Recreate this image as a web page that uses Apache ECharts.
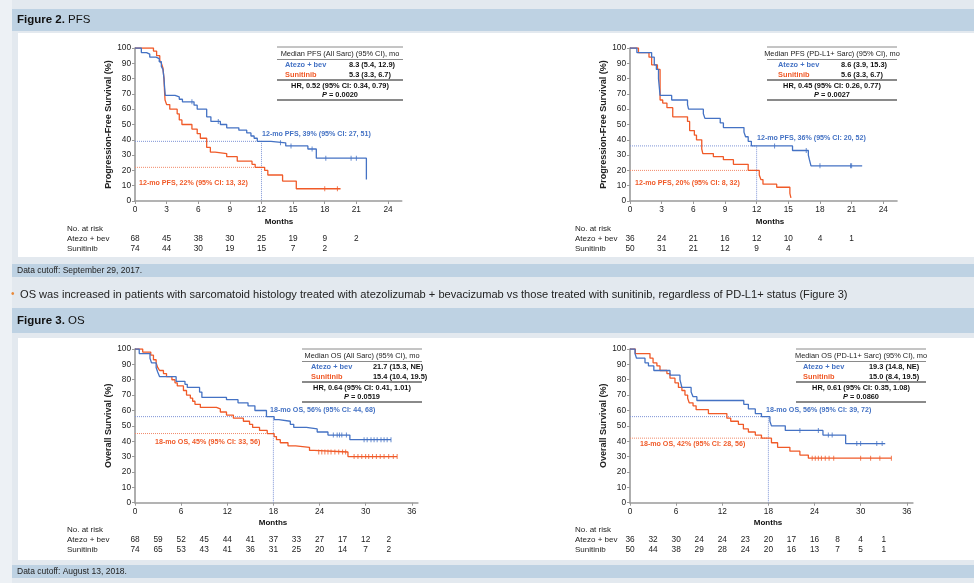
<!DOCTYPE html>
<html><head><meta charset="utf-8">
<script src="https://cdn.jsdelivr.net/npm/echarts@6/dist/echarts.min.js"></script>
<style>html,body{margin:0;padding:0;background:#edf1f5}#c{width:974px;height:583px}</style>
</head><body><div id="c"></div><script>
// ---------- DATA ----------
const pfsRiskTimes = [0, 3, 6, 9, 12, 15, 18, 21];
const osRiskTimes = [0, 3, 6, 9, 12, 15, 18, 21, 24, 27, 30, 33];
const pfsTickValues = [0, 3, 6, 9, 12, 15, 18, 21, 24];
const osTickValues = [0, 6, 12, 18, 24, 30, 36];
const yTickValues = [0, 10, 20, 30, 40, 50, 60, 70, 80, 90, 100];

// PFS, all sarcomatoid
const pfsAllAtezo = [[0,100],[0.6,97],[1.1,96],[1.4,94],[2.0,93],[2.3,91],[2.5,88],[2.65,86],[2.75,80],[2.8,75],[2.87,69],[3.8,68],[4.2,66.5],[4.5,64.8],[5.6,62.6],[5.9,60],[6.8,55],[7.2,52],[8.1,50],[8.7,47.8],[9.85,46.3],[10.6,44.5],[11.0,42.5],[11.3,41],[11.6,39],[12.9,38],[14.3,36],[16.4,34],[17.2,28],[21.95,14]];
const pfsAllAtezoCens = [[5.4,64.8],[7.9,52],[13.8,38],[14.8,36],[16.8,34],[18.1,28],[20.5,28],[21.0,28]];
const pfsAllSuni = [[0,100],[1.75,98],[2.05,95],[2.35,92],[2.5,90],[2.65,87],[2.75,80],[2.8,72],[2.85,66],[3.0,63],[3.3,60],[4.0,57],[4.2,53],[4.45,50],[5.4,47],[5.9,44],[6.2,41],[6.8,35],[7.15,32],[7.6,31],[8.7,29],[9.7,26],[11.1,24],[11.4,22],[12.3,20],[12.6,17],[14.0,13],[15.3,8],[19.5,8]];
const pfsAllSuniCens = [[18.0,8],[19.2,8]];
const pfsAllRiskAtezo = [68, 45, 38, 30, 25, 19, 9, 2];
const pfsAllRiskSuni = [74, 44, 30, 19, 15, 7, 2];

// PFS, PD-L1+ sarcomatoid
const pfsPdAtezo = [[0,100],[0.65,97],[2.05,94],[2.3,89],[2.5,86],[2.7,80],[2.85,69],[3.95,66],[5.45,63],[5.55,60],[6.95,57],[7.1,54],[8.55,51],[8.85,48],[10.8,45],[10.95,42],[11.2,39],[11.5,36],[15.4,33],[16.9,30],[17.0,27],[17.15,23],[22.0,23]];
const pfsPdAtezoCens = [[13.7,36],[16.7,33],[18.0,23],[20.9,23],[21.0,23]];
const pfsPdSuni = [[0,100],[0.8,97],[1.8,94],[2.05,89],[2.6,86],[2.85,66],[3.1,64],[3.5,61],[4.05,55],[5.45,52],[5.65,46],[6.1,43],[6.3,40],[6.8,34],[6.9,31],[7.9,29],[8.85,27],[9.8,24],[11.2,20],[12.25,17],[12.4,14],[12.6,11],[13.9,9],[15.15,5],[15.25,2]];
const pfsPdSuniCens = [];
const pfsPdRiskAtezo = [36, 24, 21, 16, 12, 10, 4, 1];
const pfsPdRiskSuni = [50, 31, 21, 12, 9, 4];

// OS, all sarcomatoid
const osAllAtezo = [[0,100],[0.55,97],[1.95,94],[2.15,91],[2.75,88],[2.95,85],[3.2,82],[5.35,79],[6.5,77],[6.8,75],[8.4,72],[8.7,68.5],[11.9,67],[13.4,65],[14.7,63],[15.6,60],[17.1,56],[18.1,54],[18.7,53],[20.2,51],[20.65,49],[22.3,48],[23.7,46],[25.1,44],[27.95,41],[33.3,41]];
const osAllAtezoCens = [[25.8,44],[26.3,44],[26.6,44],[26.9,44],[27.5,44],[29.8,41],[30.2,41],[30.7,41],[31.1,41],[31.5,41],[32.0,41],[32.4,41],[32.8,41],[33.3,41]];
const osAllSuni = [[0,100],[1.0,98],[2.05,96],[2.4,93],[2.75,91],[2.95,88],[3.2,86],[3.7,84],[4.1,82],[4.8,80],[5.2,78],[5.5,76],[6.3,73],[6.7,70],[7.2,68],[7.5,66],[7.8,64],[8.5,62],[10.6,61],[11.1,59],[11.9,57],[12.8,55],[14.1,53],[14.9,51],[15.3,49],[16.2,47],[17.2,45],[18.1,43],[18.4,41],[18.9,39],[19.9,37],[20.9,36],[22.7,34],[23.3,33],[27.7,30],[34.1,30]];
const osAllSuniCens = [[23.9,33],[24.3,33],[24.7,33],[25.1,33],[25.5,33],[26.0,33],[26.5,33],[27.0,33],[27.4,33],[28.5,30],[29.0,30],[29.5,30],[30.0,30],[30.4,30],[30.9,30],[31.4,30],[31.9,30],[32.4,30],[33.0,30],[33.6,30],[34.1,30]];
const osAllRiskAtezo = [68, 59, 52, 45, 44, 41, 37, 33, 27, 17, 12, 2];
const osAllRiskSuni = [74, 65, 53, 43, 41, 36, 31, 25, 20, 14, 7, 2];

// OS, PD-L1+ sarcomatoid
const osPdAtezo = [[0,100],[0.65,97],[0.85,94],[1.95,91],[2.4,89],[3.1,86],[5.2,83],[6.5,80],[6.75,75],[7.95,72],[8.2,69],[8.7,66.5],[14.8,64],[15.4,61],[16.3,58],[17.1,56],[18.2,53],[18.4,50],[20.2,47],[25.1,44],[28.05,38.5],[33.2,38.5]];
const osPdAtezoCens = [[22.1,47],[24.5,47],[25.8,44],[26.3,44],[29.5,38.5],[30.0,38.5],[32.1,38.5],[32.8,38.5]];
const osPdSuni = [[0,100],[0.7,97],[2.6,94],[3.0,91],[3.5,89],[3.9,86],[4.8,84],[5.2,81],[5.85,78],[6.3,75],[6.75,73],[7.15,70],[7.5,68],[7.7,65],[8.2,63],[8.6,60.5],[10.2,58],[12.6,55],[13.1,53],[14.1,51],[14.75,48],[15.4,46],[16.3,44],[17.1,42],[18.4,39],[19.2,36],[20.8,33.5],[22.1,31],[23.2,29],[34.0,29]];
const osPdSuniCens = [[23.7,29],[24.1,29],[24.5,29],[24.9,29],[25.4,29],[25.9,29],[26.5,29],[30.0,29],[31.3,29],[32.5,29],[34.0,29]];
const osPdRiskAtezo = [36, 32, 30, 24, 24, 23, 20, 17, 16, 8, 4, 1];
const osPdRiskSuni = [50, 44, 38, 29, 28, 24, 20, 16, 13, 7, 5, 1];

// landmark: [month, atezo %, sunitinib %]
const landmarks = [[12, 39, 22], [12, 36, 20], [18, 56, 45], [18, 56, 42]];
const landmarkAtezoText = ['12-mo PFS, 39% (95% CI: 27, 51)', '12-mo PFS, 36% (95% CI: 20, 52)', '18-mo OS, 56% (95% CI: 44, 68)', '18-mo OS, 56% (95% CI: 39, 72)'];
const landmarkSuniText = ['12-mo PFS, 22% (95% CI: 13, 32)', '12-mo PFS, 20% (95% CI: 8, 32)', '18-mo OS, 45% (95% CI: 33, 56)', '18-mo OS, 42% (95% CI: 28, 56)'];

// median tables
const tableTitles = ['Median PFS (All Sarc) (95% CI), mo', 'Median PFS (PD-L1+ Sarc) (95% CI), mo', 'Median OS (All Sarc) (95% CI), mo', 'Median OS (PD-L1+ Sarc) (95% CI), mo'];
const atezoMedians = ['8.3 (5.4, 12.9)', '8.6 (3.9, 15.3)', '21.7 (15.3, NE)', '19.3 (14.8, NE)'];
const suniMedians = ['5.3 (3.3, 6.7)', '5.6 (3.3, 6.7)', '15.4 (10.4, 19.5)', '15.0 (8.4, 19.5)'];
const hrTexts = ['HR, 0.52 (95% CI: 0.34, 0.79)', 'HR, 0.45 (95% CI: 0.26, 0.77)', 'HR, 0.64 (95% CI: 0.41, 1.01)', 'HR, 0.61 (95% CI: 0.35, 1.08)'];
const pValues = ['0.0020', '0.0027', '0.0519', '0.0860'];
const armNames = ['Atezo + bev', 'Sunitinib'];
const yTitles = ['Progression-Free Survival (%)', 'Progression-Free Survival (%)', 'Overall Survival (%)', 'Overall Survival (%)'];

// ---------- LAYOUT / STYLE ----------
const BLUE = '#4472c4', ORANGE = '#f05a28';
const FONT = "'Liberation Sans', Arial, Helvetica, sans-serif";
const AX = '#9a9a9a';
const TF = 7.4; // table font
const panels = [
  {left:135, top:48, width:266.7, height:153, max:25.3, ticks:pfsTickValues, atezo:pfsAllAtezo, atezoC:pfsAllAtezoCens, suni:pfsAllSuni, suniC:pfsAllSuniCens, rt:pfsRiskTimes, ra:pfsAllRiskAtezo, rs:pfsAllRiskSuni, lblX:67, riskY:229, monthsX:279, monthsY:222, tab:{l:277, r:403, t:47, a:8, v:72}, annA:[262,134], annS:[139,183]},
  {left:630, top:48, width:267, height:153, max:25.3, ticks:pfsTickValues, atezo:pfsPdAtezo, atezoC:pfsPdAtezoCens, suni:pfsPdSuni, suniC:pfsPdSuniCens, rt:pfsRiskTimes, ra:pfsPdRiskAtezo, rs:pfsPdRiskSuni, lblX:575, riskY:229, monthsX:770, monthsY:222, tab:{l:767, r:897, t:47, a:11, v:74}, annA:[757,138], annS:[635,183]},
  {left:135, top:349, width:282.9, height:153.7, max:36.8, ticks:osTickValues, atezo:osAllAtezo, atezoC:osAllAtezoCens, suni:osAllSuni, suniC:osAllSuniCens, rt:osRiskTimes, ra:osAllRiskAtezo, rs:osAllRiskSuni, lblX:67, riskY:530, monthsX:273, monthsY:523, tab:{l:302, r:422, t:349, a:9, v:71}, annA:[270,410], annS:[155,442]},
  {left:630, top:349, width:282.9, height:153.7, max:36.8, ticks:osTickValues, atezo:osPdAtezo, atezoC:osPdAtezoCens, suni:osPdSuni, suniC:osPdSuniCens, rt:osRiskTimes, ra:osPdRiskAtezo, rs:osPdRiskSuni, lblX:575, riskY:530, monthsX:768, monthsY:523, tab:{l:796, r:926, t:349, a:7, v:73}, annA:[766,410], annS:[640,444]}
];

function txt(x, y, text, size, color, opts) {
  opts = opts || {};
  return {type:'text', silent:true, z:50, style:Object.assign({
    x:x, y:y, text:text, fill:color || '#222',
    font:(opts.bold ? 'bold ' : '') + size + 'px ' + FONT,
    align:opts.align || 'left', verticalAlign:'middle',
    textAlign:opts.align || 'left', textVerticalAlign:'middle'
  }, opts.rich ? {rich:opts.rich} : {})};
}
function hline(x1, x2, y, w, color) {
  return {type:'line', silent:true, z:50, shape:{x1:x1, y1:y, x2:x2, y2:y}, style:{stroke:color || '#8a8a8a', lineWidth:w}};
}
function rect(x, y, w, h, color) {
  return {type:'rect', silent:true, z:-10, shape:{x:x, y:y, width:w, height:h}, style:{fill:color}};
}

const grids = [], xAxes = [], yAxes = [], series = [];
panels.forEach((p, i) => {
  grids.push({left:p.left, top:p.top, width:p.width, height:p.height, containLabel:false});
  xAxes.push({type:'value', gridIndex:i, min:0, max:p.max, interval:p.ticks[1],
    axisLine:{show:true, onZero:false, lineStyle:{color:AX, width:1.6}},
    axisTick:{show:true, length:3, customValues:p.ticks, lineStyle:{color:AX, width:1}},
    axisLabel:{customValues:p.ticks, fontSize:8.3, color:'#222', fontFamily:FONT, margin:5},
    splitLine:{show:false}});
  yAxes.push({type:'value', gridIndex:i, min:0, max:100, interval:10,
    name:yTitles[i], nameLocation:'middle', nameGap:20,
    nameTextStyle:{fontSize:9, fontWeight:'bold', color:'#222', fontFamily:FONT},
    axisLine:{show:true, lineStyle:{color:AX, width:1.6}},
    axisTick:{show:true, length:3, customValues:yTickValues, lineStyle:{color:AX, width:1}},
    axisLabel:{fontSize:8.3, color:'#222', fontFamily:FONT, margin:4},
    splitLine:{show:false}});
  const lm = landmarks[i];
  series.push({type:'line', xAxisIndex:i, yAxisIndex:i, data:[[0, lm[1]], [lm[0], lm[1]], [lm[0], 0]], showSymbol:false, silent:true, z:1,
    lineStyle:{color:'#7d93d6', width:1, type:'dotted'}});
  series.push({type:'line', xAxisIndex:i, yAxisIndex:i, data:[[0, lm[2]], [lm[0], lm[2]]], showSymbol:false, silent:true, z:1,
    lineStyle:{color:'#f28a6a', width:1, type:'dotted'}});
  series.push({type:'line', step:'end', xAxisIndex:i, yAxisIndex:i, data:p.suni, showSymbol:false, silent:true, z:3,
    lineStyle:{color:ORANGE, width:1.3}});
  series.push({type:'line', step:'end', xAxisIndex:i, yAxisIndex:i, data:p.atezo, showSymbol:false, silent:true, z:4,
    lineStyle:{color:BLUE, width:1.3}});
  series.push({type:'scatter', xAxisIndex:i, yAxisIndex:i, data:p.suniC, symbol:'rect', symbolSize:[1,5], silent:true, z:3,
    itemStyle:{color:ORANGE}});
  series.push({type:'scatter', xAxisIndex:i, yAxisIndex:i, data:p.atezoC, symbol:'rect', symbolSize:[1,5], silent:true, z:4,
    itemStyle:{color:BLUE}});
});

// page background & banners
const richB = {b:{fontWeight:'bold', fontSize:11.5, fontFamily:FONT, fill:'#111'}};
const graphics = [
  rect(12, 0, 962, 583, '#e3e9ef'),
  rect(12, 9, 962, 22, '#bed2e3'),
  rect(18, 33, 956, 224, '#ffffff'),
  rect(12, 264, 962, 13, '#bed2e3'),
  rect(12, 308, 962, 25, '#bed2e3'),
  rect(18, 338, 956, 222, '#ffffff'),
  rect(12, 565, 962, 13, '#bed2e3'),
  txt(17, 20, '{b|Figure 2.} PFS', 11.5, '#111', {rich:richB}),
  txt(17, 270.5, 'Data cutoff: September 29, 2017.', 8.5, '#222'),
  txt(11, 294.5, '•', 10, '#e8893a'),
  txt(20, 294.5, 'OS was increased in patients with sarcomatoid histology treated with atezolizumab + bevacizumab vs those treated with sunitinib, regardless of PD-L1+ status (Figure 3)', 11.1, '#222'),
  txt(17, 321, '{b|Figure 3.} OS', 11.5, '#111', {rich:richB}),
  txt(17, 571.5, 'Data cutoff: August 13, 2018.', 8.5, '#222')
];

panels.forEach((p, i) => {
  const t = p.tab, cx = (t.l + t.r) / 2;
  graphics.push(hline(t.l, t.r, t.t, 1, '#8a8a8a'));
  graphics.push(txt(cx, t.t + 7, tableTitles[i], TF, '#222', {align:'center'}));
  graphics.push(hline(t.l, t.r, t.t + 12.5, 1, '#8a8a8a'));
  graphics.push(txt(t.l + t.a, t.t + 18, armNames[0], TF, BLUE, {bold:true}));
  graphics.push(txt(t.l + t.v, t.t + 18, atezoMedians[i], TF, '#111', {bold:true}));
  graphics.push(txt(t.l + t.a, t.t + 28, armNames[1], TF, ORANGE, {bold:true}));
  graphics.push(txt(t.l + t.v, t.t + 28, suniMedians[i], TF, '#111', {bold:true}));
  graphics.push(hline(t.l, t.r, t.t + 33, 2, '#8a8a8a'));
  graphics.push(txt(cx, t.t + 39, hrTexts[i], TF, '#111', {bold:true, align:'center'}));
  graphics.push(txt(cx, t.t + 48, '{i|P} = ' + pValues[i], TF, '#111', {bold:true, align:'center',
    rich:{i:{fontStyle:'italic', fontWeight:'bold', fontSize:TF, fontFamily:FONT, fill:'#111'}}}));
  graphics.push(hline(t.l, t.r, t.t + 53, 2, '#8a8a8a'));
  graphics.push(txt(p.annA[0], p.annA[1], landmarkAtezoText[i], 7.1, BLUE, {bold:true}));
  graphics.push(txt(p.annS[0], p.annS[1], landmarkSuniText[i], 7.1, ORANGE, {bold:true}));
  graphics.push(txt(p.monthsX, p.monthsY, 'Months', 8, '#111', {bold:true, align:'center'}));
  graphics.push(txt(p.lblX, p.riskY, 'No. at risk', 8, '#222'));
  graphics.push(txt(p.lblX, p.riskY + 9.8, armNames[0], 8, '#222'));
  graphics.push(txt(p.lblX, p.riskY + 19.3, armNames[1], 8, '#222'));
});

const chart = echarts.init(document.getElementById('c'), null, {width:974, height:583});
const option = {animation:false, backgroundColor:'#edf1f5', textStyle:{fontFamily:FONT},
  grid:grids, xAxis:xAxes, yAxis:yAxes, series:series, graphic:graphics};
chart.setOption(option);

// at-risk numbers positioned through the x scales
panels.forEach((p, i) => {
  p.rt.forEach((m, k) => {
    const px = chart.convertToPixel({xAxisIndex:i}, m);
    if (k < p.ra.length) graphics.push(txt(px, p.riskY + 9.8, String(p.ra[k]), 8.3, '#222', {align:'center'}));
    if (k < p.rs.length) graphics.push(txt(px, p.riskY + 19.3, String(p.rs[k]), 8.3, '#222', {align:'center'}));
  });
});
option.graphic = graphics;
chart.setOption(option, true);
</script></body></html>
